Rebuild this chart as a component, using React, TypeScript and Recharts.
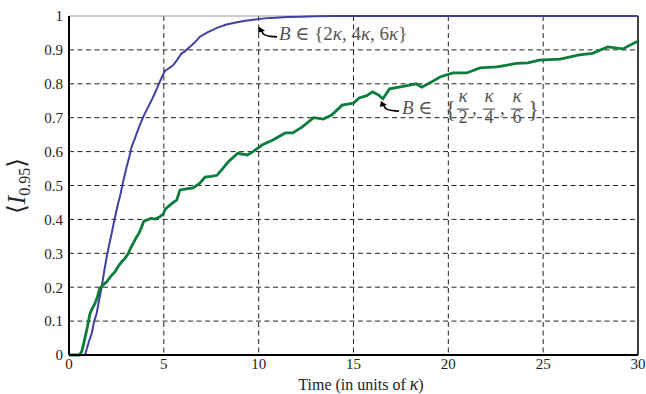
import React from 'react';
import {
  LineChart,
  Line,
  XAxis,
  YAxis,
  CartesianGrid,
  ReferenceLine,
  ReferenceDot,
} from 'recharts';

// B in {2k, 4k, 6k} (blue)
const blueTime = [
  0, 0.6, 0.84, 0.95, 1.05, 1.2, 1.33, 1.46, 1.58, 1.72, 1.85, 1.99, 2.12, 2.25, 2.43, 2.6,
  2.69, 2.85, 3.04, 3.18, 3.3, 3.45, 3.57, 3.75, 3.92, 4.12, 4.36, 4.55, 4.71, 4.9, 5.06,
  5.25, 5.5, 5.72, 5.94, 6.1, 6.29, 6.6, 6.9, 7.3, 7.8, 8.3, 8.8, 9.3, 9.8, 10.3, 10.9,
  11.5, 12.2, 13, 14, 15, 20, 25, 30,
];
const blueValue = [
  0, 0, 0, 0.02, 0.04, 0.064, 0.1, 0.123, 0.16, 0.2, 0.245, 0.29, 0.325, 0.359, 0.408, 0.45,
  0.468, 0.51, 0.555, 0.585, 0.614, 0.635, 0.654, 0.68, 0.703, 0.726, 0.752, 0.775, 0.796, 0.82,
  0.838, 0.845, 0.855, 0.872, 0.89, 0.895, 0.905, 0.92, 0.939, 0.952, 0.965, 0.975, 0.981,
  0.986, 0.99, 0.993, 0.995, 0.997, 0.998, 0.999, 1, 1, 1, 1, 1,
];

// B in {k/2, k/4, k/6} (green)
const greenTime = [
  0, 0.55, 0.67, 0.8, 0.97, 1.11, 1.25, 1.37, 1.5, 1.63, 1.8, 1.99, 2.2, 2.43, 2.6, 2.78,
  2.95, 3.13, 3.25, 3.39, 3.57, 3.7, 3.83, 3.95, 4.1, 4.3, 4.55, 4.8, 4.97, 5.07, 5.32, 5.5,
  5.68, 5.85, 6.2, 6.55, 6.9, 7.17, 7.5, 7.8, 8.1, 8.4, 8.9, 9.4, 9.7, 10.2, 10.75, 11.4,
  11.8, 12.3, 12.9, 13.4, 13.85, 14.4, 15, 15.3, 15.7, 16, 16.3, 16.55, 16.9, 17.4, 17.9,
  18.3, 18.6, 19.1, 19.56, 20.25, 20.97, 21.67, 22.56, 23.6, 24.2, 24.8, 25.9, 26.9, 27.6,
  28.4, 29.2, 29.9, 30,
];
const greenValue = [
  0, 0, 0.01, 0.04, 0.083, 0.123, 0.14, 0.152, 0.172, 0.197, 0.207, 0.216, 0.232, 0.246,
  0.262, 0.275, 0.285, 0.3, 0.315, 0.33, 0.349, 0.36, 0.378, 0.395, 0.398, 0.403, 0.401,
  0.408, 0.416, 0.43, 0.442, 0.45, 0.457, 0.487, 0.49, 0.493, 0.507, 0.525, 0.527, 0.53,
  0.55, 0.57, 0.595, 0.59, 0.6, 0.62, 0.634, 0.655, 0.655, 0.673, 0.7, 0.696, 0.708, 0.737,
  0.743, 0.758, 0.765, 0.776, 0.768, 0.756, 0.785, 0.79, 0.795, 0.8, 0.79, 0.805, 0.82, 0.832,
  0.832, 0.847, 0.85, 0.86, 0.862, 0.87, 0.873, 0.885, 0.89, 0.909, 0.903, 0.923, 0.925,
];

const xTicks = [0, 5, 10, 15, 20, 25, 30];
const yTicks = [0, 0.1, 0.2, 0.3, 0.4, 0.5, 0.6, 0.7, 0.8, 0.9, 1];
const gridX = [5, 10, 15, 20, 25];
const gridY = [0.1, 0.2, 0.3, 0.4, 0.5, 0.6, 0.7, 0.8, 0.9];

// arrow tips of the two annotations
const upperTip = { t: 10.07, v: 0.965 };
const lowerTip = { t: 16.5, v: 0.746 };

const blueData = blueTime.map((t, i) => ({ t, v: blueValue[i] }));
const greenData = greenTime.map((t, i) => ({ t, v: greenValue[i] }));

const serif = '"Liberation Serif", "DejaVu Serif", serif';
const noteColor = '#555';

const hook = (cx: number, cy: number) => (
  <g>
    <path
      d={`M${cx + 2},${cy + 3} Q${cx + 2},${cy + 9} ${cx + 17},${cy + 9}`}
      fill="none"
      stroke="#000"
      strokeWidth={1.6}
    />
    <path d={`M${cx - 1},${cy - 1} L${cx + 5},${cy + 3} L${cx - 2},${cy + 5} Z`} fill="#000" />
  </g>
);

const UpperNote = (props: any) => {
  const { cx, cy } = props;
  return (
    <g>
      {hook(cx, cy)}
      <text x={cx + 19} y={cy + 12} fontSize={19} fill={noteColor} fontFamily={serif}>
        <tspan fontStyle="italic">B</tspan>
        {' \u2208 {2'}
        <tspan fontStyle="italic">κ</tspan>
        {', 4'}
        <tspan fontStyle="italic">κ</tspan>
        {', 6'}
        <tspan fontStyle="italic">κ</tspan>
        {'}'}
      </text>
    </g>
  );
};

const fractions = ['2', '4', '6'];

const LowerNote = (props: any) => {
  const { cx, cy } = props;
  const centers = [81, 107, 135];
  return (
    <g fontFamily={serif} fill={noteColor}>
      {hook(cx, cy)}
      <text x={cx + 20} y={cy + 12} fontSize={19}>
        <tspan fontStyle="italic">B</tspan>
        {' \u2208'}
      </text>
      <text x={cx + 63} y={cy + 15} fontSize={23}>
        {'{'}
      </text>
      {fractions.map((d, i) => (
        <g key={d}>
          <text x={cx + centers[i]} y={cy} fontSize={19} fontStyle="italic" textAnchor="middle">
            κ
          </text>
          <line
            x1={cx + centers[i] - 6}
            x2={cx + centers[i] + 6}
            y1={cy + 7}
            y2={cy + 7}
            stroke={noteColor}
            strokeWidth={1.2}
          />
          <text x={cx + centers[i]} y={cy + 21} fontSize={18} textAnchor="middle">
            {d}
          </text>
        </g>
      ))}
      <text x={cx + 90} y={cy + 12} fontSize={19}>,</text>
      <text x={cx + 118} y={cy + 12} fontSize={19}>,</text>
      <text x={cx + 146} y={cy + 15} fontSize={23}>
        {'}'}
      </text>
    </g>
  );
};

const YTitle = () => (
  <text
    x={25}
    y={186}
    transform="rotate(-90, 25, 186)"
    textAnchor="middle"
    fontFamily={serif}
    fill="#222"
  >
    <tspan fontSize={25}>{'\u27E8'}</tspan>
    <tspan fontSize={25} fontStyle="italic">I</tspan>
    <tspan fontSize={16} dy={5}>0.95</tspan>
    <tspan fontSize={25} dy={-5}>{'\u27E9'}</tspan>
  </text>
);

const XTitle = () => (
  <text x={361} y={390} textAnchor="middle" fontFamily={serif} fontSize={16} fill="#222">
    {'Time (in units of '}
    <tspan fontStyle="italic" fontSize={18}>κ</tspan>
    {')'}
  </text>
);

const tickStyle = { fontSize: 15, fill: '#222', fontFamily: serif };

export default function App() {
  return (
    <div
      style={{
        position: 'absolute',
        left: 0,
        top: 0,
        width: 646,
        height: 394,
        background: '#fff',
        fontFamily: serif,
      }}
    >
      <LineChart
        width={646}
        height={394}
        margin={{ top: 16, right: 8, left: 9, bottom: 9 }}
        style={{ fontFamily: serif }}
      >
        <CartesianGrid
          stroke="#222"
          strokeDasharray="5 3.5"
          horizontalValues={gridY}
          verticalValues={gridX}
        />
        <XAxis
          type="number"
          dataKey="t"
          domain={[0, 30]}
          ticks={xTicks}
          height={30}
          tickLine={false}
          tickSize={0}
          tickMargin={3}
          axisLine={{ stroke: '#000', strokeWidth: 2 }}
          tick={tickStyle}
          allowDuplicatedCategory={false}
          label={{ content: () => <XTitle /> }}
        />
        <YAxis
          type="number"
          domain={[0, 1]}
          ticks={yTicks}
          width={60}
          tickLine={false}
          tickSize={0}
          tickMargin={6}
          axisLine={{ stroke: '#000', strokeWidth: 2 }}
          tick={tickStyle}
          label={{ content: () => <YTitle /> }}
        />
        <ReferenceLine y={1} stroke="#999" strokeWidth={1} />
        <ReferenceLine x={30} stroke="#000" strokeWidth={1.5} />
        <Line
          data={blueData}
          dataKey="v"
          type="linear"
          stroke="#4040a0"
          strokeWidth={2}
          dot={false}
          isAnimationActive={false}
        />
        <Line
          data={greenData}
          dataKey="v"
          type="linear"
          stroke="#0b7d3a"
          strokeWidth={2.8}
          dot={false}
          isAnimationActive={false}
        />
        <ReferenceDot x={upperTip.t} y={upperTip.v} r={0} shape={UpperNote} />
        <ReferenceDot x={lowerTip.t} y={lowerTip.v} r={0} shape={LowerNote} />
      </LineChart>
    </div>
  );
}
